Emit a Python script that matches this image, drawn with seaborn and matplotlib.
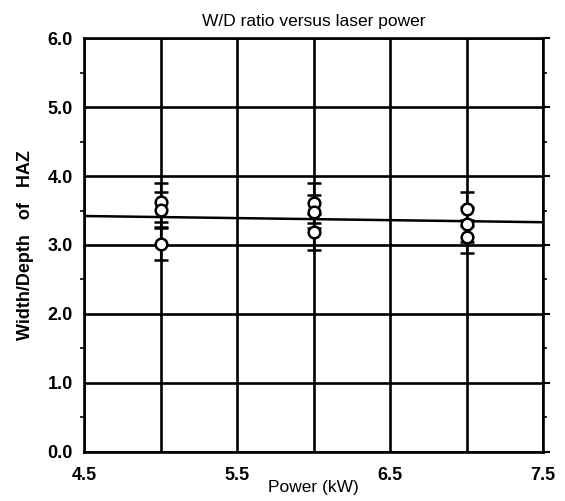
import matplotlib
matplotlib.use("Agg")
import matplotlib.pyplot as plt
import seaborn as sns
import pandas as pd
import numpy as np

# Data
power = [5.0, 5.0, 5.0, 6.0, 6.0, 6.0, 7.0, 7.0, 7.0]
ratio = [3.62, 3.51, 3.02, 3.61, 3.48, 3.19, 3.52, 3.30, 3.12]
error = [0.28, 0.26, 0.24, 0.29, 0.24, 0.26, 0.25, 0.25, 0.24]
fit_power = [4.5, 7.5]
fit_ratio = [3.42, 3.33]
x_ticks = [4.5, 5.5, 6.5, 7.5]
x_grid = [4.5, 5.0, 5.5, 6.0, 6.5, 7.0, 7.5]
y_ticks = [0.0, 1.0, 2.0, 3.0, 4.0, 5.0, 6.0]

sns.set_style("white")
plt.rcParams['font.family'] = ['Liberation Sans', 'DejaVu Sans']
plt.rcParams['text.color'] = 'black'
plt.rcParams['axes.labelcolor'] = 'black'
plt.rcParams['xtick.color'] = 'black'
plt.rcParams['ytick.color'] = 'black'

df = pd.DataFrame({"power": power, "ratio": ratio, "error": error})
fit = pd.DataFrame({"power": fit_power, "ratio": fit_ratio})

fig = plt.figure(figsize=(5.65, 5.01), dpi=100)
ax = fig.add_axes([0.149, 0.098, 0.812, 0.826])

# grid lines
for gx in x_grid:
    ax.axvline(gx, color="black", lw=1.9, zorder=1)
for gy in y_ticks:
    ax.axhline(gy, color="black", lw=1.9, zorder=1)

sns.lineplot(data=fit, x="power", y="ratio", color="black", lw=1.8, ax=ax, zorder=2)
ax.errorbar(df["power"], df["ratio"], yerr=df["error"], fmt="none", ecolor="black",
            elinewidth=1.5, capsize=5, capthick=1.8, zorder=3)
sns.scatterplot(data=df, x="power", y="ratio", s=70, facecolor="white", edgecolor="black",
                linewidth=1.8, marker="o", ax=ax, zorder=4)

ax.set_xlim(4.5, 7.5)
ax.set_ylim(0.0, 6.0)
ax.set_xticks(x_ticks)
ax.set_xticklabels([f"{v:.1f}" for v in x_ticks], fontweight="bold", fontsize=13)
ax.set_yticks(y_ticks)
ax.set_yticklabels([f"{v:.1f}" for v in y_ticks], fontweight="bold", fontsize=13)
ax.set_yticks([0.5, 1.5, 2.5, 3.5, 4.5, 5.5], minor=True)
ax.tick_params(axis="both", which="major", direction="out", length=5, width=1.5, color="black", pad=3)
ax.tick_params(axis="x", which="major", pad=6)
ax.tick_params(axis="y", which="minor", direction="out", length=3, width=1.2, color="black",
               left=True, right=True)
ax.tick_params(axis="y", which="major", right=True)

for s in ax.spines.values():
    s.set_color("black")
    s.set_linewidth(1.9)

ax.set_xlabel("Power (kW)", fontsize=12.5, labelpad=-3)
ax.set_ylabel("Width/Depth   of   HAZ", fontsize=13, fontweight="bold", labelpad=10)
ax.set_title("W/D ratio versus laser power", fontsize=12.5, pad=9)

fig.savefig("out.png", dpi=100)
